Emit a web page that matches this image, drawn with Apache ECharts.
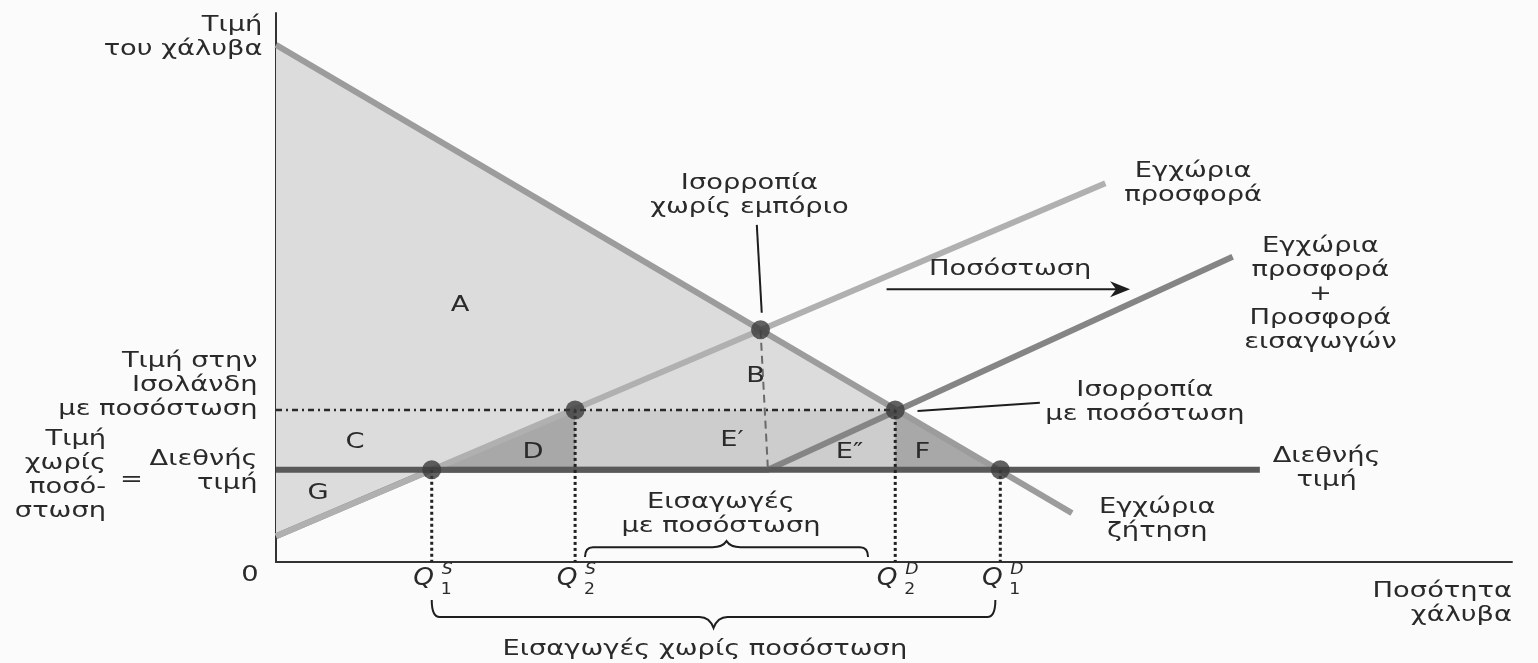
<!DOCTYPE html>
<html>
<head>
<meta charset="utf-8">
<script src="https://cdn.jsdelivr.net/npm/echarts@6/dist/echarts.min.js"></script>
<style>
    html, body { margin: 0; padding: 0; background: #fbfbfb; }
    #chart { width: 1538px; height: 663px; }
</style>
</head>
<body>
<div id="chart"></div>
<script>
    // values (x: quantity 0-100, y: price 0-100)
    const worldPrice = 16.8
    const quotaPrice = 27.7
    const demandLine = [[0, 94.2], [64.4, 8.9]]
    const supplyLine = [[0, 4.7], [67.1, 69]]
    const supplyQuotaLine = [[0, 4.7], [12.6, 16.8], [39.8, 16.8], [77.4, 55.6]]
    const worldPriceEnd = 79.6
    const noTradeEq = [39.2, 42.3]
    const quotaKink = [39.8, 16.8]

    const qValues = [12.6, 24.2, 50.1, 58.6]
    const qPrices = [16.8, 27.7, 27.7, 16.8]
    const qSup = ['S', 'S', 'D', 'D']
    const qSub = ['1', '2', '2', '1']

    const surplusArea = [[0, 94.2], [58.6, 16.8], [12.6, 16.8], [0, 4.7]]
    const rentArea = [[24.2, 27.7], [50.1, 27.7], [50.1, 16.8], [24.2, 16.8]]
    const areaD = [[12.6, 16.8], [24.2, 27.7], [24.2, 16.8]]
    const areaF = [[50.1, 27.7], [58.6, 16.8], [50.1, 16.8]]

    const areaLetters = ['A', 'B', 'C', 'D', 'E′', 'E″', 'F', 'G']
    const areaLetterPos = [[14.9, 46.8], [38.8, 33.7], [6.4, 21.7], [20.8, 20.0], [36.9, 22.2], [46.4, 19.9], [52.3, 19.9], [3.4, 12.4]]

    const labelTexts = [
        'Τιμή\nτου χάλυβα',
        'Τιμή στην\nΙσολάνδη\nμε ποσόστωση',
        'Τιμή\nχωρίς\nποσό-\nστωση',
        '=',
        'Διεθνής\nτιμή',
        '0',
        'Ισορροπία\nχωρίς εμπόριο',
        'Εγχώρια\nπροσφορά',
        'Ποσόστωση',
        'Εγχώρια\nπροσφορά\n+\nΠροσφορά\nεισαγωγών',
        'Ισορροπία\nμε ποσόστωση',
        'Διεθνής\nτιμή',
        'Εγχώρια\nζήτηση',
        'Ποσότητα\nχάλυβα',
        'Εισαγωγές\nμε ποσόστωση',
        'Εισαγωγές χωρίς ποσόστωση'
    ]
    const labelPos = [[-1.1, 95.6], [-1.5, 32.1], [-13.75, 15.7], [-11.7, 14.9], [-1.5, 16.4], [-2.1, -2.4],
        [38.3, 66.7], [74.2, 69.0], [59.4, 53.2], [84.5, 48.8], [70.3, 29.1], [85.0, 17.1], [71.3, 7.7],
        [100, -7.5], [36.0, 8.7], [34.7, -16.0]]
    const labelAlign = ['right', 'right', 'right', 'center', 'right', 'center',
        'center', 'center', 'center', 'center', 'center', 'center', 'center',
        'right', 'center', 'center']

    const leaderLines = [[[38.9, 61.4], [39.3, 45.4]], [[51.9, 27.5], [61.8, 29.0]]]
    const quotaArrow = [[49.4, 49.7], [69.1, 49.7]]
    // braces: [x1, x2, hook end y, line y, tip y]
    const braces = [[25.0, 47.9, 0.9, 2.7, 3.8], [12.6, 58.2, -6.9, -10.0, -12.0]]

    const textColor = '#2a2a2a'
    const font = '21px "DejaVu Sans"'
    const stretch = 1.3

    const chart = echarts.init(document.getElementById('chart'))

    function polygon(points, color) {
        return {
            type: 'custom', silent: true, data: [[0, 0]], z: 1,
            renderItem: (params, api) => ({
                type: 'polygon',
                shape: {points: points.map(p => api.coord(p))},
                style: {fill: color}
            })
        }
    }

    function line(data, color, width, z) {
        return {
            type: 'line', data, symbol: 'none', silent: true, z: z || 3,
            lineStyle: {color, width, cap: 'butt'}
        }
    }

    function text(p, str, align, f, sx) {
        return {
            type: 'text', x: p[0], y: p[1], scaleX: sx || stretch,
            style: {
                text: str, x: 0, y: 0, align, verticalAlign: 'middle',
                font: f || font, fill: textColor, lineHeight: 24
            }
        }
    }

    function bracePath(api, b) {
        const [x1, x2, yEnd, yLine, yTip] = b
        const a = api.coord([x1, yEnd]), c = api.coord([x2, yEnd])
        const ly = api.coord([x1, yLine])[1], ty = api.coord([x1, yTip])[1]
        const m = (a[0] + c[0]) / 2
        const r = 8
        return 'M' + a[0] + ' ' + a[1] +
            ' Q' + a[0] + ' ' + ly + ' ' + (a[0] + r) + ' ' + ly +
            ' L' + (m - 14) + ' ' + ly +
            ' Q' + (m - 4) + ' ' + ly + ' ' + m + ' ' + ty +
            ' Q' + (m + 4) + ' ' + ly + ' ' + (m + 14) + ' ' + ly +
            ' L' + (c[0] - r) + ' ' + ly +
            ' Q' + c[0] + ' ' + ly + ' ' + c[0] + ' ' + c[1]
    }

    const points = qValues.map((q, i) => [q, qPrices[i]]).concat([noTradeEq])

    const option = {
        animation: false,
        backgroundColor: '#fbfbfb',
        grid: {left: 276, top: 13, width: 1236, height: 549},
        xAxis: {
            type: 'value', min: 0, max: 100,
            axisLine: {lineStyle: {color: '#333', width: 2}},
            axisTick: {show: false}, axisLabel: {show: false}, splitLine: {show: false}
        },
        yAxis: {
            type: 'value', min: 0, max: 100,
            axisLine: {show: true, lineStyle: {color: '#333', width: 2}},
            axisTick: {show: false}, axisLabel: {show: false}, splitLine: {show: false}
        },
        series: [
            polygon(surplusArea, '#dcdcdc'),
            polygon(rentArea, '#cdcdcd'),
            polygon(areaD, '#a8a8a8'),
            polygon(areaF, '#a8a8a8'),
            line(supplyQuotaLine, '#858585', 6),
            line(supplyLine, '#b0b0b0', 6),
            line(demandLine, '#9c9c9c', 6),
            line([[0, worldPrice], [worldPriceEnd, worldPrice]], '#595959', 6),
            {
                // quota price and drop lines to the axis
                type: 'custom', silent: true, z: 4, data: [[0, 0]],
                renderItem: (params, api) => {
                    const a0 = api.coord([0, quotaPrice]), a1 = api.coord([qValues[2], quotaPrice])
                    const children = [{
                        type: 'line',
                        shape: {x1: a0[0], y1: a0[1], x2: a1[0], y2: a1[1]},
                        style: {stroke: '#2a2a2a', lineWidth: 2.5, lineDash: [6, 4, 2, 4]}
                    }]
                    qValues.forEach((q, i) => {
                        const a = api.coord([q, qPrices[i]]), b = api.coord([q, 0])
                        children.push({
                            type: 'line', shape: {x1: a[0], y1: a[1], x2: b[0], y2: b[1]},
                            style: {stroke: '#222', lineWidth: 3, lineDash: [3, 3]}
                        })
                    })
                    const e = api.coord(noTradeEq), k = api.coord(quotaKink)
                    children.push({
                        type: 'line', shape: {x1: e[0], y1: e[1], x2: k[0], y2: k[1]},
                        style: {stroke: '#6a6a6a', lineWidth: 2, lineDash: [8, 5]}
                    })
                    return {type: 'group', children}
                }
            },
            {
                type: 'scatter', data: points, symbolSize: 19, silent: true, z: 5,
                itemStyle: {color: '#3b3b3b'}
            },
            {
                // leader lines, arrow and braces
                type: 'custom', silent: true, z: 6, data: [[0, 0]],
                renderItem: (params, api) => {
                    const children = leaderLines.map(l => {
                        const a = api.coord(l[0]), b = api.coord(l[1])
                        return {
                            type: 'line', shape: {x1: a[0], y1: a[1], x2: b[0], y2: b[1]},
                            style: {stroke: '#1e1e1e', lineWidth: 2}
                        }
                    })
                    const s = api.coord(quotaArrow[0]), t = api.coord(quotaArrow[1])
                    children.push({
                        type: 'line', shape: {x1: s[0], y1: s[1], x2: t[0] - 4, y2: t[1]},
                        style: {stroke: '#1e1e1e', lineWidth: 2}
                    })
                    children.push({
                        type: 'polygon',
                        shape: {points: [[t[0], t[1]], [t[0] - 20, t[1] - 8], [t[0] - 14, t[1]], [t[0] - 20, t[1] + 8]]},
                        style: {fill: '#1e1e1e'}
                    })
                    braces.forEach(b => {
                        children.push({
                            type: 'path', shape: {pathData: bracePath(api, b)},
                            style: {stroke: '#1e1e1e', lineWidth: 2, fill: null}
                        })
                    })
                    return {type: 'group', children}
                }
            },
            {
                // texts
                type: 'custom', silent: true, z: 7, data: [[0, 0]],
                renderItem: (params, api) => {
                    const children = []
                    labelTexts.forEach((str, i) => {
                        children.push(text(api.coord(labelPos[i]), str, labelAlign[i]))
                    })
                    areaLetters.forEach((str, i) => {
                        children.push(text(api.coord(areaLetterPos[i]), str, 'center'))
                    })
                    qValues.forEach((q, i) => {
                        const p = api.coord([q, 0])
                        children.push(text([p[0] - 8, p[1] + 17], 'Q', 'center', 'italic 24px "DejaVu Sans"', 1.1))
                        children.push(text([p[0] + 10, p[1] + 8], qSup[i], 'left', 'italic 15px "DejaVu Sans"', 1.15))
                        children.push(text([p[0] + 9, p[1] + 28], qSub[i], 'left', '15px "DejaVu Sans"', 1.15))
                    })
                    return {type: 'group', children}
                }
            }
        ]
    }

    chart.setOption(option)
</script>
</body>
</html>
